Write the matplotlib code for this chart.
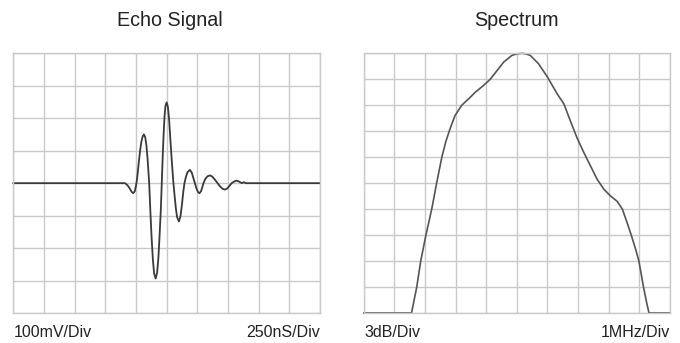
import matplotlib.pyplot as plt

# Echo signal, in divisions (10 x 8 grid, centre line at 0)
echo_t = [0.0, 3.50, 3.64, 3.72, 3.80, 3.86, 3.91, 3.96, 4.00,
          4.03, 4.06, 4.10, 4.14, 4.18, 4.22, 4.26, 4.30, 4.34, 4.38, 4.43,
          4.47, 4.51, 4.55, 4.59, 4.64, 4.69, 4.73, 4.77, 4.81, 4.84,
          4.87, 4.90, 4.93, 4.96, 5.00, 5.04, 5.08, 5.12, 5.17, 5.22,
          5.26, 5.30, 5.34, 5.40, 5.45, 5.50, 5.54, 5.58,
          5.63, 5.68, 5.76, 5.82, 5.87, 5.92,
          5.97, 6.02, 6.07, 6.12, 6.16, 6.20,
          6.26, 6.33, 6.41, 6.49, 6.57, 6.66,
          6.74, 6.82, 6.90, 6.98, 7.05, 7.12,
          7.20, 7.28, 7.36, 7.45, 7.52, 7.58, 10.0]
echo_v = [0.0, 0.0, 0.0, -0.06, -0.17, -0.27, -0.31, -0.25, -0.08,
          0.10, 0.35, 0.72, 1.05, 1.30, 1.45, 1.50, 1.42, 1.16, 0.72, 0.0,
          -0.90, -1.70, -2.35, -2.78, -2.94, -2.75, -2.30, -1.60, -0.80, 0.0,
          0.80, 1.50, 2.05, 2.38, 2.49, 2.35, 1.95, 1.35, 0.65, 0.0,
          -0.40, -0.78, -1.05, -1.18, -1.02, -0.65, -0.28, 0.0,
          0.20, 0.34, 0.41, 0.32, 0.16, 0.0,
          -0.16, -0.27, -0.31, -0.25, -0.13, 0.0,
          0.13, 0.21, 0.24, 0.20, 0.11, 0.0,
          -0.10, -0.17, -0.20, -0.16, -0.08, 0.0,
          0.05, 0.08, 0.05, 0.0, 0.03, 0.0, 0.0]

# Spectrum, in divisions (10 x 10 grid)
spec_f = [0.0, 1.56, 1.73, 1.86, 2.03, 2.22, 2.38, 2.55, 2.68, 2.82, 2.98,
          3.20, 3.48, 3.64, 3.90, 4.13, 4.35, 4.57, 4.84, 5.00, 5.17, 5.30,
          5.44, 5.71, 6.00, 6.32, 6.54, 6.75, 6.97, 7.19, 7.41, 7.63, 7.85,
          8.07, 8.28, 8.45, 8.61, 8.74, 8.89, 8.99, 9.14, 9.25, 9.32, 10.0]
spec_db = [0.0, 0.0, 1.0, 2.0, 3.0, 4.0, 5.0, 6.0, 6.60, 7.10, 7.60,
           8.0, 8.31, 8.50, 8.75, 9.0, 9.33, 9.66, 9.92, 9.98, 10.0, 9.98,
           9.92, 9.60, 9.09, 8.44, 8.05, 7.40, 6.74, 6.18, 5.66, 5.14, 4.76,
           4.50, 4.30, 4.0, 3.46, 3.0, 2.43, 2.0, 1.0, 0.36, 0.0, 0.0]

grid_col = "#c9c9c9"
txt_col = "#222222"
font = "Liberation Sans"

fig = plt.figure(figsize=(6.8, 3.43), dpi=100)
ax1 = fig.add_axes([0.0196, 0.0875, 0.451, 0.757])
ax2 = fig.add_axes([0.535, 0.0875, 0.450, 0.757])


def scope_grid(ax, nx, ny, ymin):
    ax.set_xlim(0, nx)
    ax.set_ylim(ymin, ymin + ny)
    ax.set_xticks(range(nx + 1))
    ax.set_yticks(range(ymin, ymin + ny + 1))
    ax.grid(True, color=grid_col, linewidth=1.0)
    ax.tick_params(length=0, labelbottom=False, labelleft=False)
    for s in ax.spines.values():
        s.set_color(grid_col)
        s.set_linewidth(1.0)
    ax.set_axisbelow(True)


scope_grid(ax1, 10, 8, -4)
ax1.plot(echo_t, echo_v, color="#3a3a3a", linewidth=1.3, clip_on=False)

scope_grid(ax2, 10, 10, 0)
ax2.plot(spec_f, spec_db, color="#555555", linewidth=1.2, clip_on=False)

fig.text(0.25, 0.94, "Echo Signal", ha="center", va="center",
         fontsize=14.2, color=txt_col, family=font)
fig.text(0.76, 0.94, "Spectrum", ha="center", va="center",
         fontsize=14.2, color=txt_col, family=font)

fig.text(0.0196, 0.03, "100mV/Div", ha="left", va="center",
         fontsize=11.5, color=txt_col, family=font)
fig.text(0.4706, 0.03, "250nS/Div", ha="right", va="center",
         fontsize=11.5, color=txt_col, family=font)
fig.text(0.536, 0.03, "3dB/Div", ha="left", va="center",
         fontsize=11.5, color=txt_col, family=font)
fig.text(0.985, 0.03, "1MHz/Div", ha="right", va="center",
         fontsize=11.5, color=txt_col, family=font)

fig.savefig("out.png", dpi=100)
